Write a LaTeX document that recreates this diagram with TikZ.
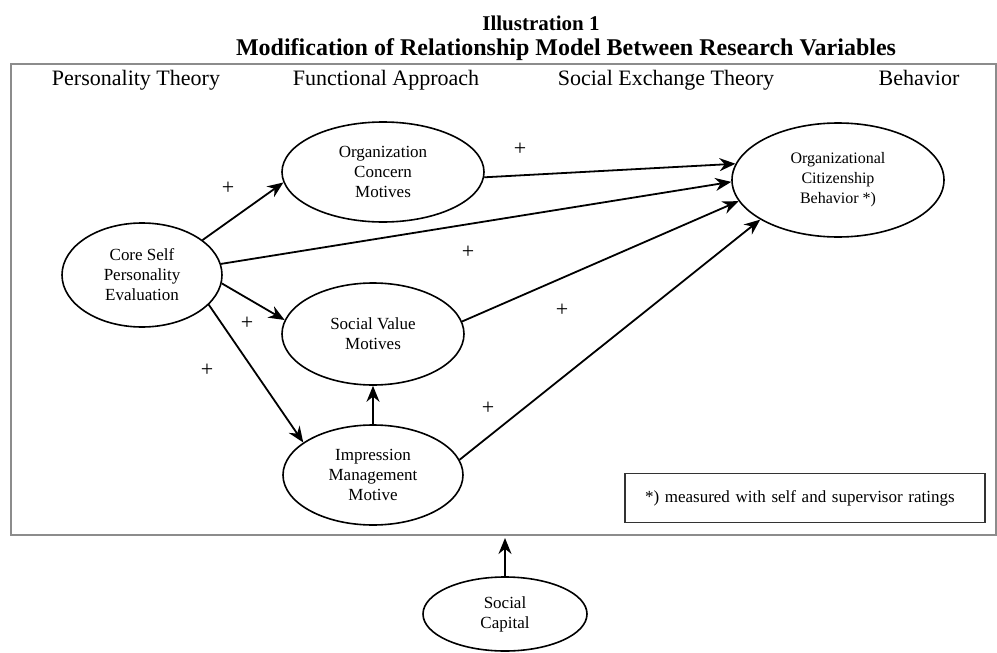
\documentclass[tikz,border=0pt]{standalone}
\usepackage{fontspec}
\setmainfont{Liberation Serif}
\usetikzlibrary{arrows.meta,shapes.geometric}

\begin{document}
\begin{tikzpicture}[x=0.5pt,y=-0.5pt,
    var/.style={ellipse, draw, line width=0.8pt, inner sep=0pt, align=center, font=\fontsize{8.5}{10}\selectfont},
    arr/.style={line width=0.9pt, -{Stealth[length=8pt,width=6.5pt]}},
    plus/.style={font=\fontsize{11}{12}\selectfont, inner sep=0pt},
    head/.style={font=\fontsize{11}{13}\selectfont, inner sep=0pt, anchor=base}]
            \useasboundingbox (0,0) rectangle (997,653);
            % titles
            \node[font=\bfseries\fontsize{10.5}{12}\selectfont] (t1) at (541,23) {Illustration 1};
            \node[font=\bfseries\fontsize{12}{14}\selectfont] (t2) at (566,50) {Modification of Relationship Model Between Research Variables};
            % frame
            \draw[black!45, line width=1.4pt] (11,64) rectangle (996,535);
            \coordinate (frameb) at (505,538);
            \node[head] (h1) at (136,85) {Personality Theory};
            \node[head] (h2) at (386,85) {Functional Approach};
            \node[head] (h3) at (666,85) {Social Exchange Theory};
            \node[head] (h4) at (919,85) {Behavior};
            % variables
            \node[var, minimum width=80pt, minimum height=52pt] (core) at (142,275) {Core Self\\Personality\\Evaluation};
            \node[var, minimum width=101pt, minimum height=50pt] (org) at (383,172) {Organization\\Concern\\Motives};
            \node[var, minimum width=91pt, minimum height=51pt] (soc) at (373,334) {Social Value\\Motives};
            \node[var, minimum width=90pt, minimum height=50pt] (imp) at (373,475) {Impression\\Management\\Motive};
            \node[var, minimum width=106pt, minimum height=57pt, font=\fontsize{8}{10}\selectfont] (ocb) at (838,180) {Organizational\\Citizenship\\Behavior *)};
            \node[var, minimum width=82pt, minimum height=37pt] (cap) at (505,614) {Social\\Capital};
            \node[draw, black!80, text=black, line width=0.7pt, minimum height=24.5pt, text width=160pt, inner xsep=10pt, align=left, font=\fontsize{8.5}{10}\selectfont] (note) at (805,498) {*) measured with self and supervisor ratings};
            % paths
            \draw[arr] (core.30) -- (org.186);
            \draw[arr] (core.-6) -- (soc.171);
            \draw[arr] (core.-24) -- (imp.155);
            \draw[arr] (org.-3) -- (ocb.171);
            \draw[arr] (core.8) -- (ocb.181);
            \draw[arr] (soc.8) -- (ocb.192);
            \draw[arr] (imp.10) -- (ocb.207);
            \draw[arr] (imp.north) -- (soc.south);
            \draw[arr] (cap.north) -- (frameb);
            % signs
            \node[plus] (p1) at (228,188) {+};
            \node[plus] (p2) at (520,149) {+};
            \node[plus] (p3) at (468,252) {+};
            \node[plus] (p4) at (562,310) {+};
            \node[plus] (p5) at (488,408) {+};
            \node[plus] (p6) at (247,323) {+};
            \node[plus] (p7) at (207,370) {+};
        \end{tikzpicture}
\end{document}
